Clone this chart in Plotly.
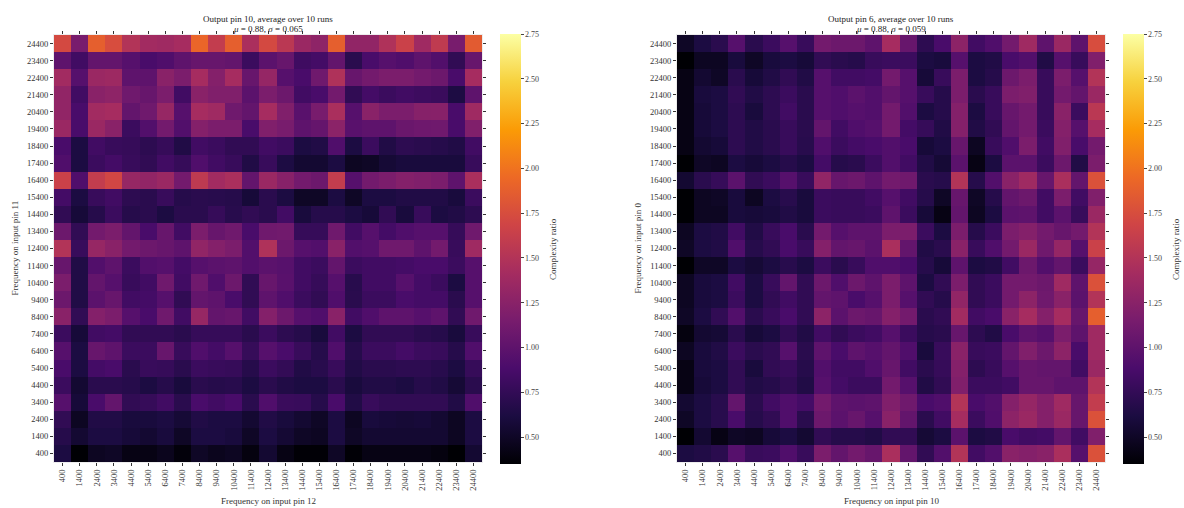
import plotly.graph_objects as go

W, H = 1184, 508

freqs = [400 + 1000 * i for i in range(25)]
x_labels = [str(f) for f in freqs]
y_labels = [str(f) for f in reversed(freqs)]  # top row first

ZMIN, ZMAX = 0.35, 2.75
cbar_ticks = [0.50, 0.75, 1.00, 1.25, 1.50, 1.75, 2.00, 2.25, 2.50, 2.75]

# Output pin 10: rows = input pin 11 (24400 at top), cols = input pin 12
z_pin10 = [
    [1.72, 1.15, 1.88, 1.75, 1.50, 1.40, 1.38, 1.42, 1.92, 1.60, 1.88, 1.45, 1.72, 1.55, 1.35, 1.28, 1.88, 1.30, 1.30, 1.48, 1.65, 1.38, 1.58, 1.15, 1.85],
    [1.00, 0.83, 1.03, 1.03, 0.95, 0.88, 0.92, 1.00, 1.05, 1.05, 1.03, 0.80, 0.98, 1.05, 0.82, 0.85, 1.03, 0.70, 0.88, 0.95, 0.92, 1.00, 0.93, 0.74, 1.05],
    [1.40, 0.95, 1.35, 1.37, 1.00, 1.00, 1.25, 1.17, 1.42, 1.22, 1.42, 1.05, 1.32, 0.95, 0.88, 1.10, 1.48, 1.05, 1.12, 1.17, 1.17, 1.12, 1.08, 0.88, 1.42],
    [1.30, 0.83, 1.25, 1.28, 1.10, 1.05, 1.17, 0.83, 1.25, 1.20, 1.20, 0.98, 1.17, 1.08, 0.83, 0.88, 1.12, 0.74, 0.85, 0.80, 0.83, 0.81, 0.79, 0.63, 1.00],
    [1.30, 0.88, 1.40, 1.42, 1.03, 1.10, 1.33, 0.95, 1.42, 1.38, 1.10, 1.03, 1.42, 1.20, 0.97, 1.15, 1.45, 0.95, 1.25, 1.17, 1.17, 1.23, 1.24, 0.88, 1.38],
    [1.35, 0.88, 1.35, 1.25, 0.80, 0.93, 1.12, 0.93, 1.22, 1.17, 1.17, 0.88, 1.20, 1.15, 1.00, 1.04, 1.26, 0.97, 1.00, 1.00, 1.07, 1.09, 1.10, 0.88, 1.20],
    [0.88, 0.62, 0.83, 0.78, 0.77, 0.72, 0.77, 0.65, 0.83, 0.80, 0.74, 0.74, 0.83, 0.80, 0.62, 0.65, 0.92, 0.62, 0.80, 0.65, 0.72, 0.70, 0.68, 0.65, 0.83],
    [0.92, 0.62, 0.80, 0.85, 0.78, 0.74, 0.83, 0.77, 0.92, 0.83, 0.78, 0.65, 0.78, 0.63, 0.55, 0.55, 0.62, 0.48, 0.50, 0.57, 0.60, 0.60, 0.60, 0.60, 0.78],
    [1.65, 0.92, 1.60, 1.70, 1.33, 1.30, 1.35, 1.12, 1.57, 1.40, 1.45, 1.03, 1.35, 1.24, 1.12, 1.08, 1.60, 0.95, 1.12, 1.17, 1.22, 1.20, 1.17, 1.00, 1.45],
    [0.85, 0.62, 0.78, 0.83, 0.72, 0.70, 0.78, 0.68, 0.70, 0.69, 0.68, 0.58, 0.70, 0.62, 0.50, 0.50, 0.62, 0.50, 0.62, 0.62, 0.65, 0.65, 0.65, 0.60, 0.80],
    [0.74, 0.58, 0.68, 0.80, 0.68, 0.70, 0.62, 0.70, 0.70, 0.77, 0.69, 0.74, 0.70, 0.84, 0.60, 0.68, 0.68, 0.62, 0.58, 0.74, 0.60, 0.78, 0.62, 0.65, 0.72],
    [1.08, 0.74, 1.12, 1.17, 1.03, 0.88, 1.05, 0.83, 1.17, 1.05, 1.10, 0.88, 1.10, 1.11, 0.77, 0.77, 1.10, 0.83, 0.95, 0.85, 0.92, 0.95, 0.95, 0.77, 1.10],
    [1.50, 0.78, 1.33, 1.25, 1.12, 1.08, 1.05, 1.00, 1.30, 1.22, 1.17, 0.93, 1.48, 1.08, 0.95, 0.93, 1.25, 0.93, 0.95, 1.10, 1.10, 1.00, 1.12, 0.78, 1.38],
    [1.05, 0.65, 0.93, 1.00, 0.80, 0.93, 0.95, 0.85, 0.95, 0.98, 1.00, 0.93, 0.98, 0.96, 0.83, 0.80, 1.03, 0.80, 0.83, 0.83, 0.85, 0.88, 0.88, 0.80, 0.95],
    [1.17, 0.65, 1.03, 0.95, 0.78, 0.83, 1.10, 0.83, 1.10, 0.92, 1.08, 0.74, 1.05, 0.97, 0.83, 0.77, 0.95, 0.69, 0.83, 0.83, 0.95, 0.85, 0.80, 0.62, 0.95],
    [1.08, 0.65, 0.98, 1.05, 0.83, 0.85, 0.95, 0.74, 1.03, 1.00, 0.88, 0.74, 1.00, 0.92, 0.80, 0.74, 0.92, 0.70, 0.80, 0.80, 0.88, 0.85, 0.85, 0.70, 0.95],
    [1.25, 0.74, 1.22, 1.17, 0.95, 0.88, 1.10, 0.83, 1.33, 1.03, 1.05, 0.83, 1.22, 1.08, 0.95, 0.92, 1.25, 0.83, 0.92, 1.00, 1.00, 0.95, 1.00, 0.74, 1.10],
    [0.80, 0.58, 0.83, 0.85, 0.74, 0.74, 0.74, 0.70, 0.77, 0.77, 0.77, 0.70, 0.80, 0.72, 0.68, 0.60, 0.83, 0.62, 0.74, 0.74, 0.74, 0.70, 0.68, 0.60, 0.78],
    [0.95, 0.62, 1.05, 1.00, 0.80, 0.80, 1.05, 0.78, 0.92, 0.85, 0.95, 0.77, 0.95, 0.88, 0.78, 0.68, 0.92, 0.68, 0.80, 0.80, 0.85, 0.80, 0.78, 0.68, 0.92],
    [0.88, 0.62, 0.85, 0.88, 0.70, 0.78, 0.77, 0.70, 0.80, 0.78, 0.77, 0.68, 0.80, 0.75, 0.65, 0.69, 0.78, 0.65, 0.70, 0.70, 0.72, 0.72, 0.69, 0.62, 0.77],
    [0.80, 0.55, 0.70, 0.70, 0.68, 0.62, 0.68, 0.60, 0.70, 0.68, 0.69, 0.62, 0.70, 0.65, 0.62, 0.62, 0.70, 0.60, 0.65, 0.65, 0.62, 0.68, 0.65, 0.57, 0.70],
    [0.95, 0.58, 0.88, 1.03, 0.74, 0.77, 0.83, 0.70, 0.88, 0.83, 0.88, 0.70, 0.92, 0.79, 0.78, 0.68, 0.88, 0.65, 0.78, 0.74, 0.74, 0.74, 0.74, 0.65, 0.92],
    [0.74, 0.48, 0.65, 0.65, 0.60, 0.60, 0.62, 0.57, 0.65, 0.62, 0.62, 0.55, 0.65, 0.60, 0.55, 0.50, 0.62, 0.48, 0.60, 0.58, 0.57, 0.58, 0.55, 0.48, 0.62],
    [0.68, 0.55, 0.62, 0.62, 0.58, 0.55, 0.60, 0.50, 0.62, 0.62, 0.60, 0.50, 0.62, 0.56, 0.50, 0.48, 0.62, 0.50, 0.55, 0.55, 0.55, 0.55, 0.55, 0.48, 0.62],
    [0.62, 0.35, 0.48, 0.50, 0.42, 0.42, 0.46, 0.38, 0.50, 0.46, 0.48, 0.40, 0.55, 0.42, 0.36, 0.36, 0.50, 0.36, 0.42, 0.42, 0.42, 0.42, 0.40, 0.35, 0.55],
]

# Output pin 6: rows = input pin 0 (24400 at top), cols = input pin 10
z_pin6 = [
    [0.50, 0.62, 0.70, 0.95, 0.70, 0.80, 0.95, 0.78, 1.12, 1.08, 1.08, 1.00, 1.42, 1.05, 0.72, 0.88, 1.27, 0.83, 0.92, 1.12, 1.38, 1.00, 1.35, 1.00, 1.75],
    [0.35, 0.48, 0.48, 0.60, 0.50, 0.60, 0.62, 0.58, 0.74, 0.70, 0.68, 0.78, 0.80, 0.80, 0.62, 0.60, 0.95, 0.62, 0.65, 0.88, 0.93, 0.65, 0.95, 0.78, 1.20],
    [0.42, 0.55, 0.50, 0.70, 0.58, 0.65, 0.74, 0.65, 0.95, 0.83, 0.83, 0.85, 1.12, 0.95, 0.58, 0.78, 1.17, 0.62, 0.68, 1.08, 1.17, 0.78, 1.17, 0.95, 1.50],
    [0.42, 0.60, 0.62, 0.74, 0.65, 0.72, 0.80, 0.70, 0.95, 0.92, 0.98, 0.93, 1.03, 0.95, 0.78, 0.68, 1.17, 0.70, 0.78, 1.17, 1.20, 0.78, 1.12, 1.03, 1.35],
    [0.42, 0.58, 0.62, 0.72, 0.60, 0.72, 0.83, 0.70, 0.95, 0.92, 0.95, 0.93, 1.12, 0.93, 0.62, 0.68, 1.22, 0.62, 0.78, 1.05, 1.12, 0.78, 1.25, 0.80, 1.55],
    [0.42, 0.58, 0.62, 0.72, 0.65, 0.70, 0.78, 0.70, 1.03, 0.83, 0.92, 0.95, 1.12, 0.85, 0.77, 0.65, 1.22, 0.65, 0.74, 1.03, 1.12, 0.80, 1.22, 0.95, 1.42],
    [0.42, 0.55, 0.58, 0.72, 0.65, 0.70, 0.78, 0.69, 0.92, 0.80, 0.85, 0.88, 0.93, 0.88, 0.58, 0.62, 1.05, 0.48, 0.78, 0.92, 1.17, 0.83, 1.20, 0.88, 1.12],
    [0.35, 0.50, 0.48, 0.62, 0.58, 0.62, 0.68, 0.62, 0.85, 0.68, 0.70, 0.80, 0.93, 0.83, 0.65, 0.57, 0.98, 0.42, 0.62, 0.98, 0.98, 0.80, 1.08, 0.65, 1.17],
    [0.55, 0.70, 0.77, 0.98, 0.74, 0.80, 0.95, 0.78, 1.30, 1.05, 1.08, 1.00, 1.12, 1.10, 0.70, 0.68, 1.50, 0.68, 0.93, 1.25, 1.38, 1.05, 1.45, 1.03, 1.78],
    [0.35, 0.48, 0.50, 0.60, 0.48, 0.62, 0.69, 0.60, 0.80, 0.78, 0.78, 0.83, 0.95, 0.83, 0.68, 0.50, 1.05, 0.50, 0.68, 1.03, 1.08, 0.83, 1.17, 0.83, 1.20],
    [0.35, 0.48, 0.48, 0.60, 0.58, 0.60, 0.65, 0.60, 0.80, 0.78, 0.78, 0.80, 1.00, 0.80, 0.58, 0.42, 1.03, 0.48, 0.62, 0.98, 1.00, 0.83, 0.98, 0.78, 1.35],
    [0.48, 0.62, 0.65, 0.83, 0.65, 0.78, 0.88, 0.70, 1.12, 0.95, 1.00, 1.00, 1.17, 1.17, 0.80, 0.62, 1.17, 0.68, 0.80, 1.17, 1.22, 1.12, 1.05, 1.12, 1.50],
    [0.50, 0.62, 0.65, 0.92, 0.68, 0.74, 0.88, 0.78, 1.22, 1.03, 1.05, 0.98, 1.45, 1.03, 0.65, 0.70, 1.25, 0.78, 0.92, 1.12, 1.35, 1.10, 1.32, 0.95, 1.65],
    [0.35, 0.50, 0.50, 0.62, 0.57, 0.62, 0.69, 0.62, 0.80, 0.70, 0.78, 0.92, 0.92, 0.88, 0.68, 0.58, 1.00, 0.62, 0.65, 0.83, 1.08, 0.93, 1.03, 0.80, 1.32],
    [0.48, 0.60, 0.62, 0.83, 0.62, 0.78, 1.03, 0.74, 1.08, 0.92, 1.08, 1.00, 1.17, 1.00, 0.62, 0.74, 1.17, 0.74, 0.80, 1.12, 1.12, 1.08, 1.38, 1.00, 1.78],
    [0.48, 0.60, 0.62, 0.80, 0.62, 0.74, 0.83, 0.74, 1.03, 1.00, 0.88, 0.95, 1.17, 0.95, 0.74, 0.68, 1.30, 0.74, 0.80, 1.12, 1.27, 1.10, 1.25, 0.98, 1.50],
    [0.50, 0.62, 0.74, 0.93, 0.70, 0.78, 0.88, 0.74, 1.27, 0.98, 1.08, 1.05, 1.22, 1.12, 0.70, 0.74, 1.40, 0.83, 0.88, 1.25, 1.42, 1.22, 1.42, 1.05, 1.88],
    [0.40, 0.55, 0.57, 0.70, 0.58, 0.62, 0.74, 0.65, 0.83, 0.74, 0.80, 0.83, 0.95, 0.80, 0.68, 0.70, 1.05, 0.72, 0.65, 0.88, 1.00, 0.95, 1.17, 1.00, 1.38],
    [0.48, 0.60, 0.65, 0.80, 0.70, 0.74, 0.95, 0.70, 1.00, 0.88, 1.00, 0.95, 1.03, 0.92, 0.60, 0.78, 1.25, 0.78, 0.80, 1.03, 1.20, 1.08, 1.27, 0.88, 1.38],
    [0.42, 0.60, 0.62, 0.74, 0.60, 0.74, 0.78, 0.68, 0.93, 0.83, 0.83, 0.92, 1.05, 0.83, 0.70, 0.77, 1.22, 0.72, 0.78, 0.95, 1.05, 1.03, 1.03, 0.83, 1.35],
    [0.42, 0.58, 0.62, 0.74, 0.65, 0.68, 0.74, 0.65, 0.95, 0.85, 0.80, 0.80, 1.12, 0.95, 0.65, 0.74, 1.20, 0.80, 0.80, 0.83, 1.05, 1.05, 1.00, 1.00, 1.50],
    [0.55, 0.62, 0.69, 1.03, 0.70, 0.83, 0.92, 0.85, 1.12, 1.00, 0.98, 1.00, 1.20, 1.10, 0.88, 0.92, 1.50, 0.88, 0.93, 1.22, 1.32, 1.22, 1.38, 1.05, 1.60],
    [0.50, 0.62, 0.69, 0.88, 0.68, 0.74, 0.92, 0.70, 1.08, 0.98, 1.05, 0.95, 1.25, 1.03, 0.70, 0.83, 1.42, 0.80, 0.92, 1.27, 1.35, 1.22, 1.35, 1.05, 1.78],
    [0.35, 0.55, 0.42, 0.50, 0.48, 0.58, 0.62, 0.55, 0.74, 0.68, 0.68, 0.65, 0.74, 0.74, 0.57, 0.62, 0.98, 0.62, 0.65, 0.88, 0.83, 0.85, 1.03, 0.83, 1.20],
    [0.62, 0.65, 0.70, 0.95, 0.78, 0.80, 0.92, 0.78, 1.17, 1.03, 1.12, 1.05, 1.45, 1.03, 0.74, 0.93, 1.50, 0.83, 0.93, 1.25, 1.22, 1.25, 1.45, 0.95, 1.78],
]

titles = ["Output pin 10, average over 10 runs", "Output pin 6, average over 10 runs"]
subtitles = ["<i>μ</i> = 0.88, <i>σ</i> = 0.065", "<i>μ</i> = 0.88, <i>σ</i> = 0.059"]
x_titles = ["Frequency on input pin 12", "Frequency on input pin 10"]
y_titles = ["Frequency on input pin 11", "Frequency on input pin 0"]
cbar_title = "Complexity ratio"

FONT = "Liberation Serif"
TXT = "#222222"

# pixel layout
plot_left = [54, 677]
plot_w = 428
plot_top, plot_bottom = 35, 462
cbar_left = [500, 1123]
cbar_w = 21
cbar_top, cbar_bottom = 34, 464


def px_x(p):
    return p / W


def px_y(p):
    return 1 - p / H


def label(text, x, y, size=9, color=TXT, angle=0):
    return dict(text=text, x=px_x(x), y=px_y(y), xref="paper", yref="paper",
                xanchor="center", yanchor="middle", textangle=angle,
                showarrow=False, font=dict(family=FONT, size=size, color=color))


fig = go.Figure()
annotations = []
for i, z in enumerate([z_pin10, z_pin6]):
    ax = "" if i == 0 else "2"
    fig.add_trace(go.Heatmap(
        z=z, x=x_labels, y=y_labels,
        xaxis="x" + ax, yaxis="y" + ax,
        colorscale="Inferno", zmin=ZMIN, zmax=ZMAX,
        colorbar=dict(
            x=px_x(cbar_left[i]), xanchor="left", xpad=0, ypad=0,
            y=px_y((cbar_top + cbar_bottom) / 2), yanchor="middle",
            len=(cbar_bottom - cbar_top) / H, lenmode="fraction",
            thickness=cbar_w, thicknessmode="pixels",
            outlinewidth=0,
            tickvals=cbar_ticks, tickformat=".2f",
            ticks="outside", ticklen=3, tickcolor="#444", tickwidth=1,
            tickfont=dict(family=FONT, size=8, color="#444"),
        ),
    ))
    cx = plot_left[i] + plot_w / 2
    annotations += [
        label(titles[i], cx, 19),
        label(subtitles[i], cx, 29),
        label(x_titles[i], cx, 501, color="#333"),
        label(y_titles[i], plot_left[i] - 40, (plot_top + plot_bottom) / 2, color="#333", angle=-90),
        label(cbar_title, cbar_left[i] + 53, (cbar_top + cbar_bottom) / 2, color="#333", angle=-90),
    ]

axis_common = dict(
    type="category", showgrid=False, zeroline=False,
    ticks="outside", ticklen=3, tickwidth=1, tickcolor="#333",
    showline=True, linecolor="rgba(225,225,225,0.6)", linewidth=1, mirror="ticks",
    tickfont=dict(family=FONT, size=8.5, color="#333"),
)

layout = dict(
    width=W, height=H, margin=dict(l=0, r=0, t=0, b=0),
    paper_bgcolor="white", plot_bgcolor="white",
    annotations=annotations,
)
for i in range(2):
    ax = "" if i == 0 else "2"
    dom_x = [px_x(plot_left[i]), px_x(plot_left[i] + plot_w)]
    dom_y = [px_y(plot_bottom), px_y(plot_top)]
    layout["xaxis" + ax] = dict(axis_common, domain=dom_x, anchor="y" + ax, tickangle=-90)
    layout["yaxis" + ax] = dict(axis_common, domain=dom_y, anchor="x" + ax, autorange="reversed")

fig.update_layout(**layout)
fig.write_html("out.html")
